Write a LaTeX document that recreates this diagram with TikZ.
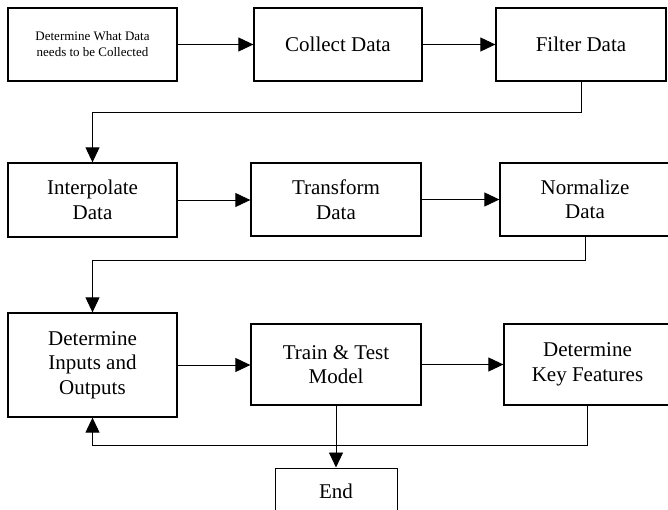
\documentclass[tikz,border=0pt]{standalone}
\usepackage{fontspec}
\setmainfont{Liberation Serif}
\newfontfamily\boxfont{Liberation Serif}
\usetikzlibrary{arrows.meta}
\tikzset{
  box/.style={draw, line width=1.3pt, inner sep=0pt, align=center, font=\boxfont\fontsize{21}{24.5}\selectfont},
  conn/.style={line width=0.9pt},
  arr/.style={conn, -{Triangle[length=15pt,width=14pt]}}
}
\begin{document}
\begin{tikzpicture}[x={(1pt,0)}, y={(0,-1pt)}]
\useasboundingbox (0,0) rectangle (668,510);
\clip (0,0) rectangle (668,510);
\node[box, minimum width=169pt, minimum height=73pt, font=\boxfont\fontsize{13}{16}\selectfont] (b1) at (92.5,44.5) {Determine What Data\\needs to be Collected};
\node[box, minimum width=168pt, minimum height=73pt] (b2) at (338,44.5) {Collect Data};
\node[box, minimum width=170pt, minimum height=73pt] (b3) at (581,44.5) {Filter Data};
\node[box, minimum width=169pt, minimum height=74pt] (b4) at (92.5,200) {Interpolate\\Data};
\node[box, minimum width=170pt, minimum height=73pt] (b5) at (336,199.5) {Transform\\Data};
\node[box, minimum width=170pt, minimum height=73pt] (b6) at (585,199.5) {Normalize\\Data};
\node[box, minimum width=169pt, minimum height=104pt] (b7) at (92.5,365) {Determine\\Inputs and\\Outputs};
\node[box, minimum width=170pt, minimum height=81pt] (b8) at (336,364.5) {Train \& Test\\Model};
\node[box, minimum width=167pt, minimum height=81pt] (b9) at (587.5,364.5) {Determine\\Key Features};
\node[box, line width=1pt, minimum width=122pt, minimum height=46pt] (end) at (336,491) {End};
\draw[arr] (b1.east) -- (b1.east -| b2.west);
\draw[arr] (b2.east) -- (b2.east -| b3.west);
\draw[arr] (b3.south) -- ++(0,31) -| (b4.north);
\draw[arr] (b4.east) -- (b4.east -| b5.west);
\draw[arr] (b5.east) -- (b5.east -| b6.west);
\draw[arr] (b6.south) -- ++(0,24) -| (b7.north);
\draw[arr] (b7.east) -- (b7.east -| b8.west);
\draw[arr] (b8.east) -- (b8.east -| b9.west);
\draw[arr] (b9.south) -- ++(0,40) -| (b7.south);
\draw[arr] (b8.south) -- (end.north);
\end{tikzpicture}
\end{document}
